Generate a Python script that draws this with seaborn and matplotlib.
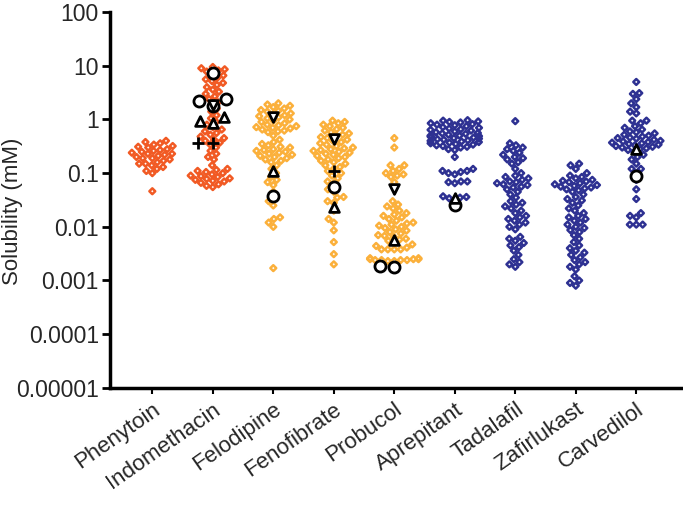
import matplotlib
matplotlib.use("Agg")
import matplotlib.pyplot as plt
import seaborn as sns
import pandas as pd
from matplotlib.ticker import FixedLocator, NullLocator
from matplotlib.markers import MarkerStyle
from matplotlib.transforms import Affine2D

sns.set_style("ticks")
plt.rcParams['font.family'] = ['Liberation Sans', 'DejaVu Sans']

drugs = ["Phenytoin", "Indomethacin", "Felodipine", "Fenofibrate", "Probucol",
         "Aprepitant", "Tadalafil", "Zafirlukast", "Carvedilol"]
drug_colors = ["#F15A24", "#F15A24", "#FBB03B", "#FBB03B", "#FBB03B",
               "#2E3192", "#2E3192", "#2E3192", "#2E3192"]

phenytoin = [0.40, 0.38, 0.36, 0.34, 0.32, 0.31, 0.30, 0.28, 0.27, 0.26,
             0.25, 0.24, 0.23, 0.23, 0.22, 0.21, 0.20, 0.19, 0.19,
             0.18, 0.17, 0.16, 0.15, 0.15, 0.14, 0.13, 0.12,
             0.11, 0.10, 0.046]
indomethacin = [9.5, 9.0, 8.6, 8.2, 7.8, 7.2, 6.6, 6.0, 5.6, 5.2, 4.8, 4.4, 4.0, 3.6, 3.3, 3.0,
                2.7, 2.4, 2.1, 1.9, 1.6, 1.4, 1.2, 1.05, 0.9, 0.8, 0.72, 0.65, 0.6, 0.56, 0.52,
                0.48, 0.45, 0.42, 0.4, 0.37, 0.34, 0.3, 0.26, 0.23, 0.2, 0.18, 0.14, 0.12, 0.115,
                0.11, 0.105, 0.1, 0.095, 0.09, 0.088, 0.085, 0.08, 0.078, 0.075, 0.072, 0.07,
                0.066, 0.062, 0.058, 0.055]
felodipine = [2.0, 1.9, 1.8, 1.7, 1.6, 1.5, 1.45, 1.4, 1.3, 1.25, 1.2, 1.15, 1.1, 1.05, 1.0, 0.95,
              0.9, 0.85, 0.8, 0.78, 0.75, 0.72, 0.7, 0.68, 0.65, 0.62, 0.6, 0.58, 0.5, 0.42, 0.38,
              0.35, 0.33, 0.31, 0.3, 0.28, 0.27, 0.26, 0.25, 0.24, 0.23, 0.22, 0.21, 0.2, 0.19,
              0.18, 0.17, 0.16, 0.14, 0.12, 0.1, 0.085, 0.075, 0.068, 0.06, 0.045, 0.03, 0.025,
              0.015, 0.014, 0.012, 0.01, 0.0017]
fenofibrate = [0.95, 0.9, 0.85, 0.8, 0.75, 0.7, 0.66, 0.62, 0.58, 0.55, 0.52, 0.5, 0.47, 0.45,
               0.42, 0.4, 0.38, 0.36, 0.34, 0.32, 0.3, 0.29, 0.28, 0.27, 0.26, 0.25, 0.24, 0.23,
               0.22, 0.21, 0.2, 0.19, 0.18, 0.17, 0.16, 0.15, 0.14, 0.13, 0.12, 0.11, 0.1, 0.09,
               0.08, 0.07, 0.065, 0.05, 0.045, 0.036, 0.035, 0.03, 0.028, 0.02, 0.014, 0.012,
               0.0086, 0.0052, 0.0031, 0.002]
probucol = [0.45, 0.3, 0.14, 0.14, 0.12, 0.11, 0.1, 0.095, 0.09, 0.085, 0.068, 0.03, 0.026, 0.024,
            0.022, 0.02, 0.018, 0.017, 0.016, 0.015, 0.014, 0.013, 0.012, 0.0115, 0.011, 0.0105,
            0.01, 0.0095, 0.009, 0.0085, 0.008, 0.0075, 0.007, 0.0068, 0.0065, 0.006, 0.0058,
            0.0055, 0.005, 0.0047, 0.0044, 0.0041, 0.0038, 0.0038, 0.0038, 0.0038, 0.0026,
            0.0026, 0.0025, 0.0025, 0.0025, 0.0024, 0.0024, 0.0024, 0.0024, 0.0023, 0.0023]
aprepitant = [0.97, 0.95, 0.92, 0.9, 0.88, 0.85, 0.82, 0.8, 0.78, 0.75, 0.72, 0.7, 0.68, 0.66,
              0.64, 0.62, 0.6, 0.58, 0.56, 0.55, 0.54, 0.52, 0.5, 0.5, 0.49, 0.48, 0.47, 0.46,
              0.45, 0.44, 0.43, 0.42, 0.41, 0.4, 0.39, 0.38, 0.37, 0.36, 0.35, 0.34, 0.33, 0.32,
              0.31, 0.3, 0.28, 0.27, 0.2, 0.12, 0.11, 0.11, 0.105, 0.1, 0.095, 0.07, 0.07, 0.068,
              0.065, 0.037, 0.036, 0.035, 0.034, 0.03]
tadalafil = [0.93, 0.36, 0.33, 0.3, 0.28, 0.26, 0.24, 0.22, 0.2, 0.19, 0.18, 0.16, 0.15, 0.12,
             0.1, 0.09, 0.085, 0.08, 0.075, 0.07, 0.068, 0.065, 0.062, 0.06,
             0.056, 0.054, 0.05, 0.045, 0.04, 0.035, 0.03, 0.028, 0.026, 0.024, 0.022, 0.02,
             0.018, 0.016, 0.015, 0.014, 0.013, 0.012, 0.011, 0.01, 0.009, 0.0065, 0.006,
             0.0055, 0.005, 0.0045, 0.0042, 0.0036, 0.003, 0.0025, 0.0022, 0.002, 0.0018]
zafirlukast = [0.15, 0.14, 0.12, 0.1, 0.09, 0.085, 0.08, 0.075, 0.072, 0.07, 0.068, 0.065,
               0.062, 0.06, 0.058, 0.056, 0.054, 0.052, 0.05, 0.048, 0.045, 0.04, 0.036, 0.033,
               0.031, 0.028, 0.025, 0.022, 0.02, 0.018, 0.016, 0.015, 0.014, 0.013, 0.012, 0.011,
               0.01, 0.0095, 0.0087, 0.008, 0.007, 0.006, 0.0052, 0.0045, 0.004, 0.0036, 0.0033,
               0.003, 0.0027, 0.0024, 0.0022, 0.002, 0.0018, 0.0016, 0.0012, 0.001, 0.0009, 0.0008]
carvedilol = [5.0, 3.1, 3.0, 2.4, 2.0, 1.7, 1.4, 1.3, 0.95, 0.95, 0.85, 0.75, 0.7, 0.65, 0.6,
              0.58, 0.55, 0.52, 0.5, 0.48, 0.46, 0.45, 0.44, 0.42, 0.4, 0.39, 0.38, 0.37, 0.36,
              0.35, 0.34, 0.33, 0.32, 0.31, 0.3, 0.29, 0.28, 0.27, 0.25, 0.22, 0.2, 0.18, 0.15,
              0.12, 0.12, 0.1, 0.075, 0.05, 0.033, 0.018, 0.016, 0.015, 0.011, 0.011, 0.011]

# Reference (literature) values shown with black markers
circle_drugs = ["Indomethacin", "Indomethacin", "Indomethacin", "Indomethacin", "Felodipine",
                "Fenofibrate", "Probucol", "Probucol", "Aprepitant", "Carvedilol"]
circle_vals = [7.3, 2.4, 2.2, 1.8, 0.037, 0.055, 0.0018, 0.0019, 0.025, 0.09]
tri_up_drugs = ["Indomethacin", "Indomethacin", "Indomethacin", "Felodipine", "Fenofibrate",
                "Probucol", "Aprepitant", "Carvedilol"]
tri_up_vals = [1.1, 0.85, 0.95, 0.11, 0.023, 0.0056, 0.035, 0.28]
tri_down_drugs = ["Indomethacin", "Felodipine", "Fenofibrate", "Probucol"]
tri_down_vals = [1.9, 1.1, 0.43, 0.05]
plus_drugs = ["Indomethacin", "Indomethacin", "Fenofibrate"]
plus_vals = [0.36, 0.37, 0.11]

ytick_vals = [1e-5, 1e-4, 1e-3, 1e-2, 1e-1, 1, 10, 100]
ytick_labels = ["0.00001", "0.0001", "0.001", "0.01", "0.1", "1", "10", "100"]

all_vals = [phenytoin, indomethacin, felodipine, fenofibrate, probucol,
            aprepitant, tadalafil, zafirlukast, carvedilol]
rows = [(d, v) for d, vals in zip(drugs, all_vals) for v in vals]
df = pd.DataFrame(rows, columns=["drug", "sol"])

fig = plt.figure(figsize=(6.83, 5.05), dpi=100)
ax = fig.add_axes([0.161, 0.232, 0.837, 0.744])

sns.swarmplot(data=df, x="drug", y="sol", hue="drug", order=drugs, hue_order=drugs,
              palette=dict(zip(drugs, drug_colors)), marker="D", size=2.6, linewidth=1.8,
              legend=False, log_scale=(False, True), ax=ax, warn_thresh=1.0)
ms = MarkerStyle("D")
big_diamond = ms.get_path().transformed(ms.get_transform() + Affine2D().scale(1.15))
for coll in ax.collections:
    fc = coll.get_facecolor()
    coll.set_edgecolor(fc)
    coll.set_facecolor("none")
    coll.set_linewidth(1.8)
    coll.set_paths([big_diamond])

marker_sets = [
    (circle_drugs, circle_vals, "o", 8),
    (tri_up_drugs, tri_up_vals, "^", 7),
    (tri_down_drugs, tri_down_vals, "v", 7),
    (plus_drugs, plus_vals, "+", 8),
]
for mdrugs, mvals, mk, sz in marker_sets:
    mdf = pd.DataFrame({"drug": mdrugs, "sol": mvals})
    n0 = len(ax.collections)
    sns.swarmplot(data=mdf, x="drug", y="sol", order=drugs, marker=mk, color="black",
                  size=sz, linewidth=2, ax=ax, warn_thresh=1.0)
    for coll in ax.collections[n0:]:
        coll.set_edgecolor("black")
        coll.set_facecolor("black" if mk == "+" else "white")
        coll.set_linewidth(2)
        coll.set_zorder(5)

ax.set_yscale("log")
ax.set_ylim(1e-5, 100)
ax.set_xlim(-0.7, len(drugs) - 0.25)
ax.yaxis.set_major_locator(FixedLocator(ytick_vals))
ax.yaxis.set_minor_locator(NullLocator())
ax.set_yticklabels(ytick_labels)
ax.set_ylabel("Solubility (mM)", fontsize=16)
ax.yaxis.set_label_coords(-0.152, 0.47)
ax.set_xlabel("")
ax.tick_params(axis="y", labelsize=16.5, length=6, width=2, pad=2, color="black")
ax.tick_params(axis="x", labelsize=16, length=4, width=1.5, pad=4, color="black")
for lab in ax.get_xticklabels():
    lab.set_rotation(35)
    lab.set_ha("right")
    lab.set_rotation_mode("anchor")
for side in ["top", "right"]:
    ax.spines[side].set_visible(False)
for side in ["left", "bottom"]:
    ax.spines[side].set_linewidth(2.5)
    ax.spines[side].set_color("black")

fig.savefig("out.png", dpi=100)
